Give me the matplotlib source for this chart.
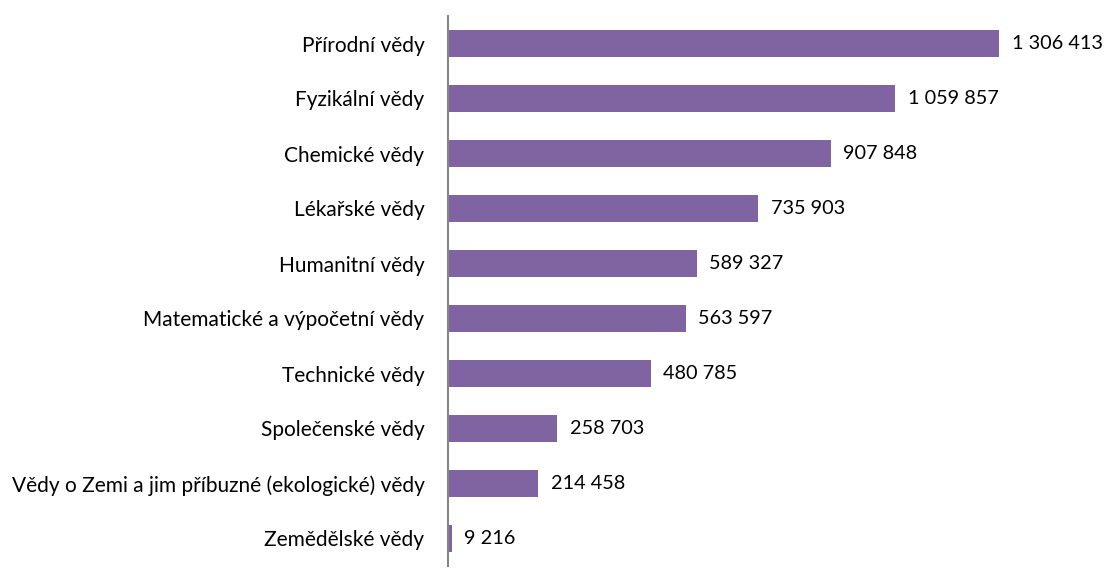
import matplotlib
matplotlib.use("Agg")
import matplotlib.pyplot as plt

categories = ["Přírodní vědy", "Fyzikální vědy", "Chemické vědy", "Lékařské vědy",
              "Humanitní vědy", "Matematické a výpočetní vědy", "Technické vědy",
              "Společenské vědy", "Vědy o Zemi a jim příbuzné (ekologické) vědy",
              "Zemědělské vědy"]
values = [1306413, 1059857, 907848, 735903, 589327, 563597, 480785, 258703, 214458, 9216]
value_labels = ["1 306 413", "1 059 857", "907 848", "735 903", "589 327",
                "563 597", "480 785", "258 703", "214 458", "9 216"]

plt.rcParams['font.family'] = ['Lato', 'DejaVu Sans']

W, H = 1106, 570
fig = plt.figure(figsize=(W/100, H/100), dpi=100)
left, right = 448, 1000
top, bottom = 16, 566
ax = fig.add_axes([left/W, 1 - bottom/H, (right-left)/W, (bottom-top)/H])

n = len(categories)
ypos = list(range(n))
ax.barh(ypos, values, height=0.49, color="#8064A2", zorder=2)
ax.set_ylim(n - 0.5, -0.5)
ax.set_xlim(0, values[0] * (right - left) / 551)

for y, v, lab in zip(ypos, values, value_labels):
    ax.annotate(lab, (v, y), xytext=(9, 0), textcoords="offset points",
                va="center", ha="left", fontsize=14.3, color="black")

ax.set_yticks(ypos)
ax.set_yticklabels(categories, fontsize=15)
ax.tick_params(axis="y", length=0, pad=17)
ax.set_xticks([])
for s in ["top", "right", "bottom"]:
    ax.spines[s].set_visible(False)
ax.spines["left"].set_color("#868686")
ax.spines["left"].set_linewidth(1.5)

fig.savefig("out.png", dpi=100)
